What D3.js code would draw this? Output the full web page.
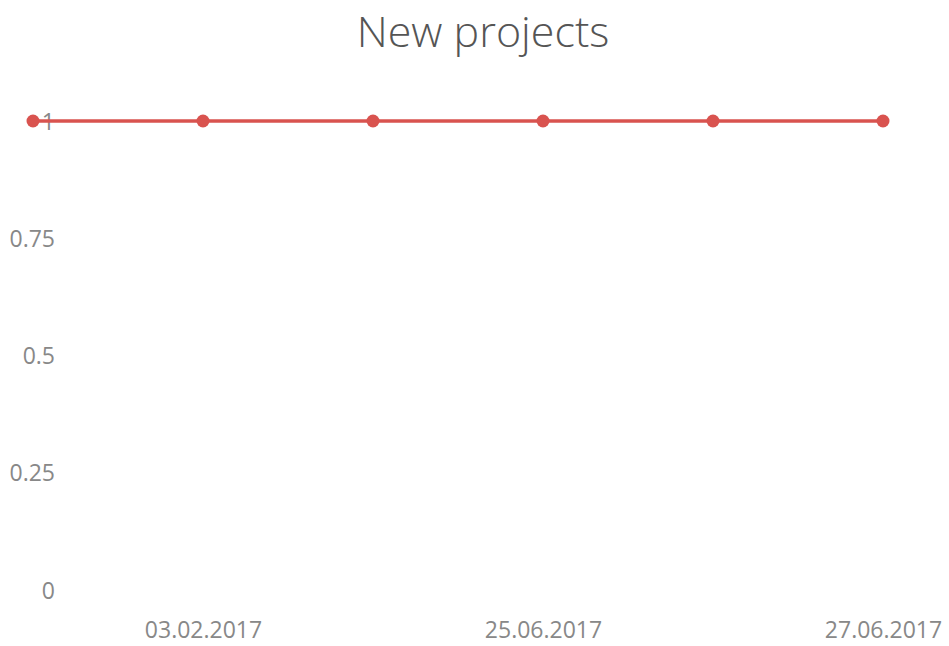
<!DOCTYPE html>
<html>
<head>
<meta charset="utf-8">
<script src="https://cdn.jsdelivr.net/npm/d3@7"></script>
<style>
  body { margin: 0; background: #fff; }
  text { font-family: "Open Sans", sans-serif; }
  .tick text { fill: #888; font-size: 23px; }
  .title { fill: #555; font-size: 43px; font-weight: 300; }
</style>
</head>
<body>
<script>
// chart data
var dates = ["02.02.2017", "03.02.2017", "24.06.2017", "25.06.2017", "26.06.2017", "27.06.2017"];
var projects = [1, 1, 1, 1, 1, 1];
var yTicks = [0, 0.25, 0.5, 0.75, 1];

window.onload = drawChart();

function drawChart(){
    var width = 949,
        height = 646;

    var svg = d3.select("body")
        .append("svg")
        .attr("width", width)
        .attr("height", height);

    // x: categories spread over the plot
    var x = d3.scalePoint()
        .domain(dates)
        .range([33, 883]);

    var y = d3.scaleLinear()
        .domain([0, 1])
        .range([590, 121]);

    // title
    svg.append("text")
        .attr("class", "title")
        .attr("x", 483)
        .attr("y", 47)
        .attr("text-anchor", "middle")
        .text("New projects");

    // y axis labels (no lines)
    var yAxis = svg.append("g")
        .attr("transform", "translate(55,0)")
        .call(d3.axisLeft(y).tickValues(yTicks).tickSize(0).tickPadding(0)
            .tickFormat(function(d){ return d3.format("")(d); }));
    yAxis.select(".domain").remove();
    yAxis.selectAll(".tick text").attr("dy", "0.35em");

    // x axis labels, every other category
    var xAxis = svg.append("g")
        .attr("transform", "translate(0,622)")
        .call(d3.axisBottom(x)
            .tickValues(dates.filter(function(d, i){ return i % 2 == 1; }))
            .tickSize(0).tickPadding(0));
    xAxis.select(".domain").remove();
    xAxis.selectAll(".tick text").attr("dy", "0.71em");

    var line = d3.line()
        .x(function(d, i){ return x(dates[i]); })
        .y(function(d){ return y(d); });

    svg.append("path")
        .datum(projects)
        .attr("d", line)
        .attr("fill", "none")
        .attr("stroke", "#d9534f")
        .attr("stroke-width", 3.5);

    svg.selectAll(".dot")
        .data(projects)
        .enter()
        .append("circle")
        .attr("class", "dot")
        .attr("cx", function(d, i){ return x(dates[i]); })
        .attr("cy", function(d){ return y(d); })
        .attr("r", 6.5)
        .attr("fill", "#d9534f");
};
</script>
</body>
</html>
